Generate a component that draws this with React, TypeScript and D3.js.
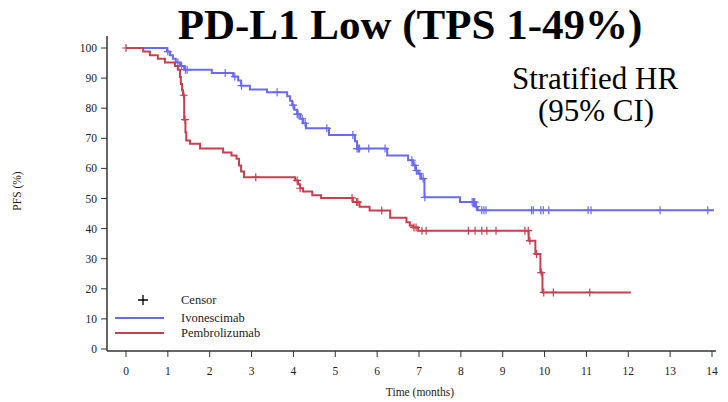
import React from "react";
import * as d3 from "d3";

// ---- Data ----
const xTicks = [0, 1, 2, 3, 4, 5, 6, 7, 8, 9, 10, 11, 12, 13, 14];
const yTicks = [0, 10, 20, 30, 40, 50, 60, 70, 80, 90, 100];

const ivoSteps: [number, number][] = [
  [0, 100], [0.98, 98.8], [1.05, 97.6], [1.12, 96.4], [1.19, 95.2], [1.29, 94.0], [1.39, 92.8],
  [2.05, 91.7], [2.56, 90.5], [2.68, 89.2], [2.75, 87.5], [2.96, 86.2], [3.37, 85.3],
  [3.85, 84.0], [3.92, 82.5], [3.97, 81.0], [4.02, 79.5], [4.09, 78.0], [4.16, 76.5], [4.23, 75.0], [4.3, 73.3],
  [4.85, 71.1], [5.47, 69.0], [5.52, 66.6], [6.24, 64.3],
  [6.74, 62.7], [6.86, 61.0], [6.92, 59.3], [6.98, 58.2], [7.05, 56.6], [7.13, 50.4],
  [7.98, 48.8], [8.35, 47.3], [8.4, 46.1],
];
const ivoEnd = 14.05;
const ivoCensor = [
  1.0, 1.24, 1.33, 1.42, 1.46, 2.37, 2.6, 2.76, 3.61, 3.99, 4.09, 4.11, 4.21, 4.28,
  4.8, 5.42, 5.52, 5.55, 5.58, 5.8, 6.19, 6.83, 6.9, 6.94, 7.02, 7.1, 7.14,
  8.27, 8.3, 8.33, 8.37, 8.5, 8.55, 8.6, 9.69, 9.73, 9.91, 9.97, 10.1, 11.04, 11.11, 12.76, 13.9,
];

const pemSteps: [number, number][] = [
  [0, 100], [0.41, 98.8], [0.57, 97.6], [0.76, 96.4], [0.93, 95.2], [1.17, 94.0], [1.24, 92.8],
  [1.29, 90.4], [1.31, 88.0], [1.34, 86.0], [1.36, 84.3], [1.39, 76.2], [1.42, 72.0], [1.44, 69.3],
  [1.53, 68.2], [1.77, 66.6], [2.32, 65.3], [2.52, 64.3], [2.64, 63.2], [2.7, 61.0], [2.75, 59.0], [2.82, 57.1],
  [4.04, 56.0], [4.11, 54.7], [4.16, 53.4], [4.23, 52.3], [4.45, 51.1], [4.66, 50.2],
  [5.42, 48.8], [5.58, 47.3], [5.82, 46.0], [6.31, 43.6], [6.7, 42.1], [6.78, 41.0], [6.86, 40.4], [6.98, 39.3],
  [9.62, 36.0], [9.78, 31.6], [9.9, 25.4], [9.95, 18.8],
];
const pemEnd = 12.06;
const pemCensor = [
  0, 1.38, 1.41, 3.1, 4.09, 4.16, 5.4, 5.51, 5.54, 6.11, 6.88, 6.93, 7.07, 7.17,
  8.18, 8.34, 8.5, 8.62, 8.84, 9.53, 9.61, 9.65, 9.81, 9.92, 9.98, 10.21, 11.08,
];

const seriesNames = ["Ivonescimab", "Pembrolizumab"];
const seriesColors = ["#6a6af0", "#c8404f"];

const FONT = "'Liberation Serif', 'DejaVu Serif', serif";

function valueAt(steps: [number, number][], t: number) {
  let v = steps[0][1];
  for (const [st, sv] of steps) if (st <= t) v = sv;
  return v;
}

export default function App() {
  const W = 728, H = 402;
  const x = d3.scaleLinear().domain([0, 14]).range([126, 712]);
  const y = d3.scaleLinear().domain([0, 100]).range([349, 48]);
  const line = d3
    .line<[number, number]>()
    .x((d) => x(d[0]))
    .y((d) => y(d[1]))
    .curve(d3.curveStepAfter);

  const arms = [
    { steps: ivoSteps, end: ivoEnd, censor: ivoCensor, color: seriesColors[0] },
    { steps: pemSteps, end: pemEnd, censor: pemCensor, color: seriesColors[1] },
  ];

  const cs = 4;
  const tf = { fontFamily: FONT };

  return (
    <svg
      width={W}
      height={H}
      style={{ position: "absolute", left: 0, top: 0, background: "#fff", fontFamily: FONT }}
    >
      <rect width={W} height={H} fill="#fff" />
      {/* Title */}
      <text x={410} y={39} textAnchor="middle" fontSize={43} fontWeight="bold" fill="#000" style={tf}>
        PD-L1 Low (TPS 1-49%)
      </text>
      <text x={595} y={89} textAnchor="middle" fontSize={31} fill="#000" style={tf}>
        Stratified HR
      </text>
      <text x={596} y={121} textAnchor="middle" fontSize={31} fill="#000" style={tf}>
        (95% CI)
      </text>

      {/* Axes */}
      <line x1={107} x2={107} y1={36} y2={351} stroke="#333" strokeWidth={1.5} />
      <line x1={107} x2={716} y1={351} y2={351} stroke="#333" strokeWidth={1.5} />
      {yTicks.map((v) => (
        <g key={"y" + v}>
          <line x1={101} x2={107} y1={y(v)} y2={y(v)} stroke="#333" strokeWidth={1} />
          <text x={97} y={y(v) + 4} textAnchor="end" fontSize={11.5} fill="#222" style={tf}>
            {v}
          </text>
        </g>
      ))}
      {xTicks.map((v) => (
        <g key={"x" + v}>
          <line x1={x(v)} x2={x(v)} y1={351} y2={357} stroke="#333" strokeWidth={1} />
          <text x={x(v)} y={375} textAnchor="middle" fontSize={11.5} fill="#222" style={tf}>
            {v}
          </text>
        </g>
      ))}
      <text x={420} y={396} textAnchor="middle" fontSize={11.5} fill="#222" style={tf}>
        Time (months)
      </text>
      <text
        transform="translate(21,191) rotate(-90)"
        textAnchor="middle"
        fontSize={11.5}
        fill="#222"
        style={tf}
      >
        PFS (%)
      </text>

      {/* Curves */}
      {arms.map((a, i) => {
        const pts: [number, number][] = [...a.steps, [a.end, a.steps[a.steps.length - 1][1]]];
        return (
          <g key={"arm" + i}>
            <path d={line(pts) || ""} fill="none" stroke={a.color} strokeWidth={2} />
            {a.censor.map((t, j) => {
              const cx = x(t);
              const cy = y(valueAt(a.steps, t));
              return (
                <path
                  key={j}
                  d={`M${cx - cs},${cy}H${cx + cs}M${cx},${cy - cs}V${cy + cs}`}
                  stroke={a.color}
                  strokeWidth={1.2}
                  fill="none"
                />
              );
            })}
          </g>
        );
      })}

      {/* Legend */}
      <path d="M138,300H148M143,295V305" stroke="#000" strokeWidth={1.3} />
      <text x={181} y={304} fontSize={12.5} fill="#222" style={tf}>Censor</text>
      {seriesNames.map((n, i) => (
        <g key={n}>
          <line x1={115} x2={164} y1={318 + i * 15} y2={318 + i * 15} stroke={seriesColors[i]} strokeWidth={2} />
          <text x={181} y={322 + i * 15} fontSize={12.5} fill="#222" style={tf}>
            {n}
          </text>
        </g>
      ))}
    </svg>
  );
}
